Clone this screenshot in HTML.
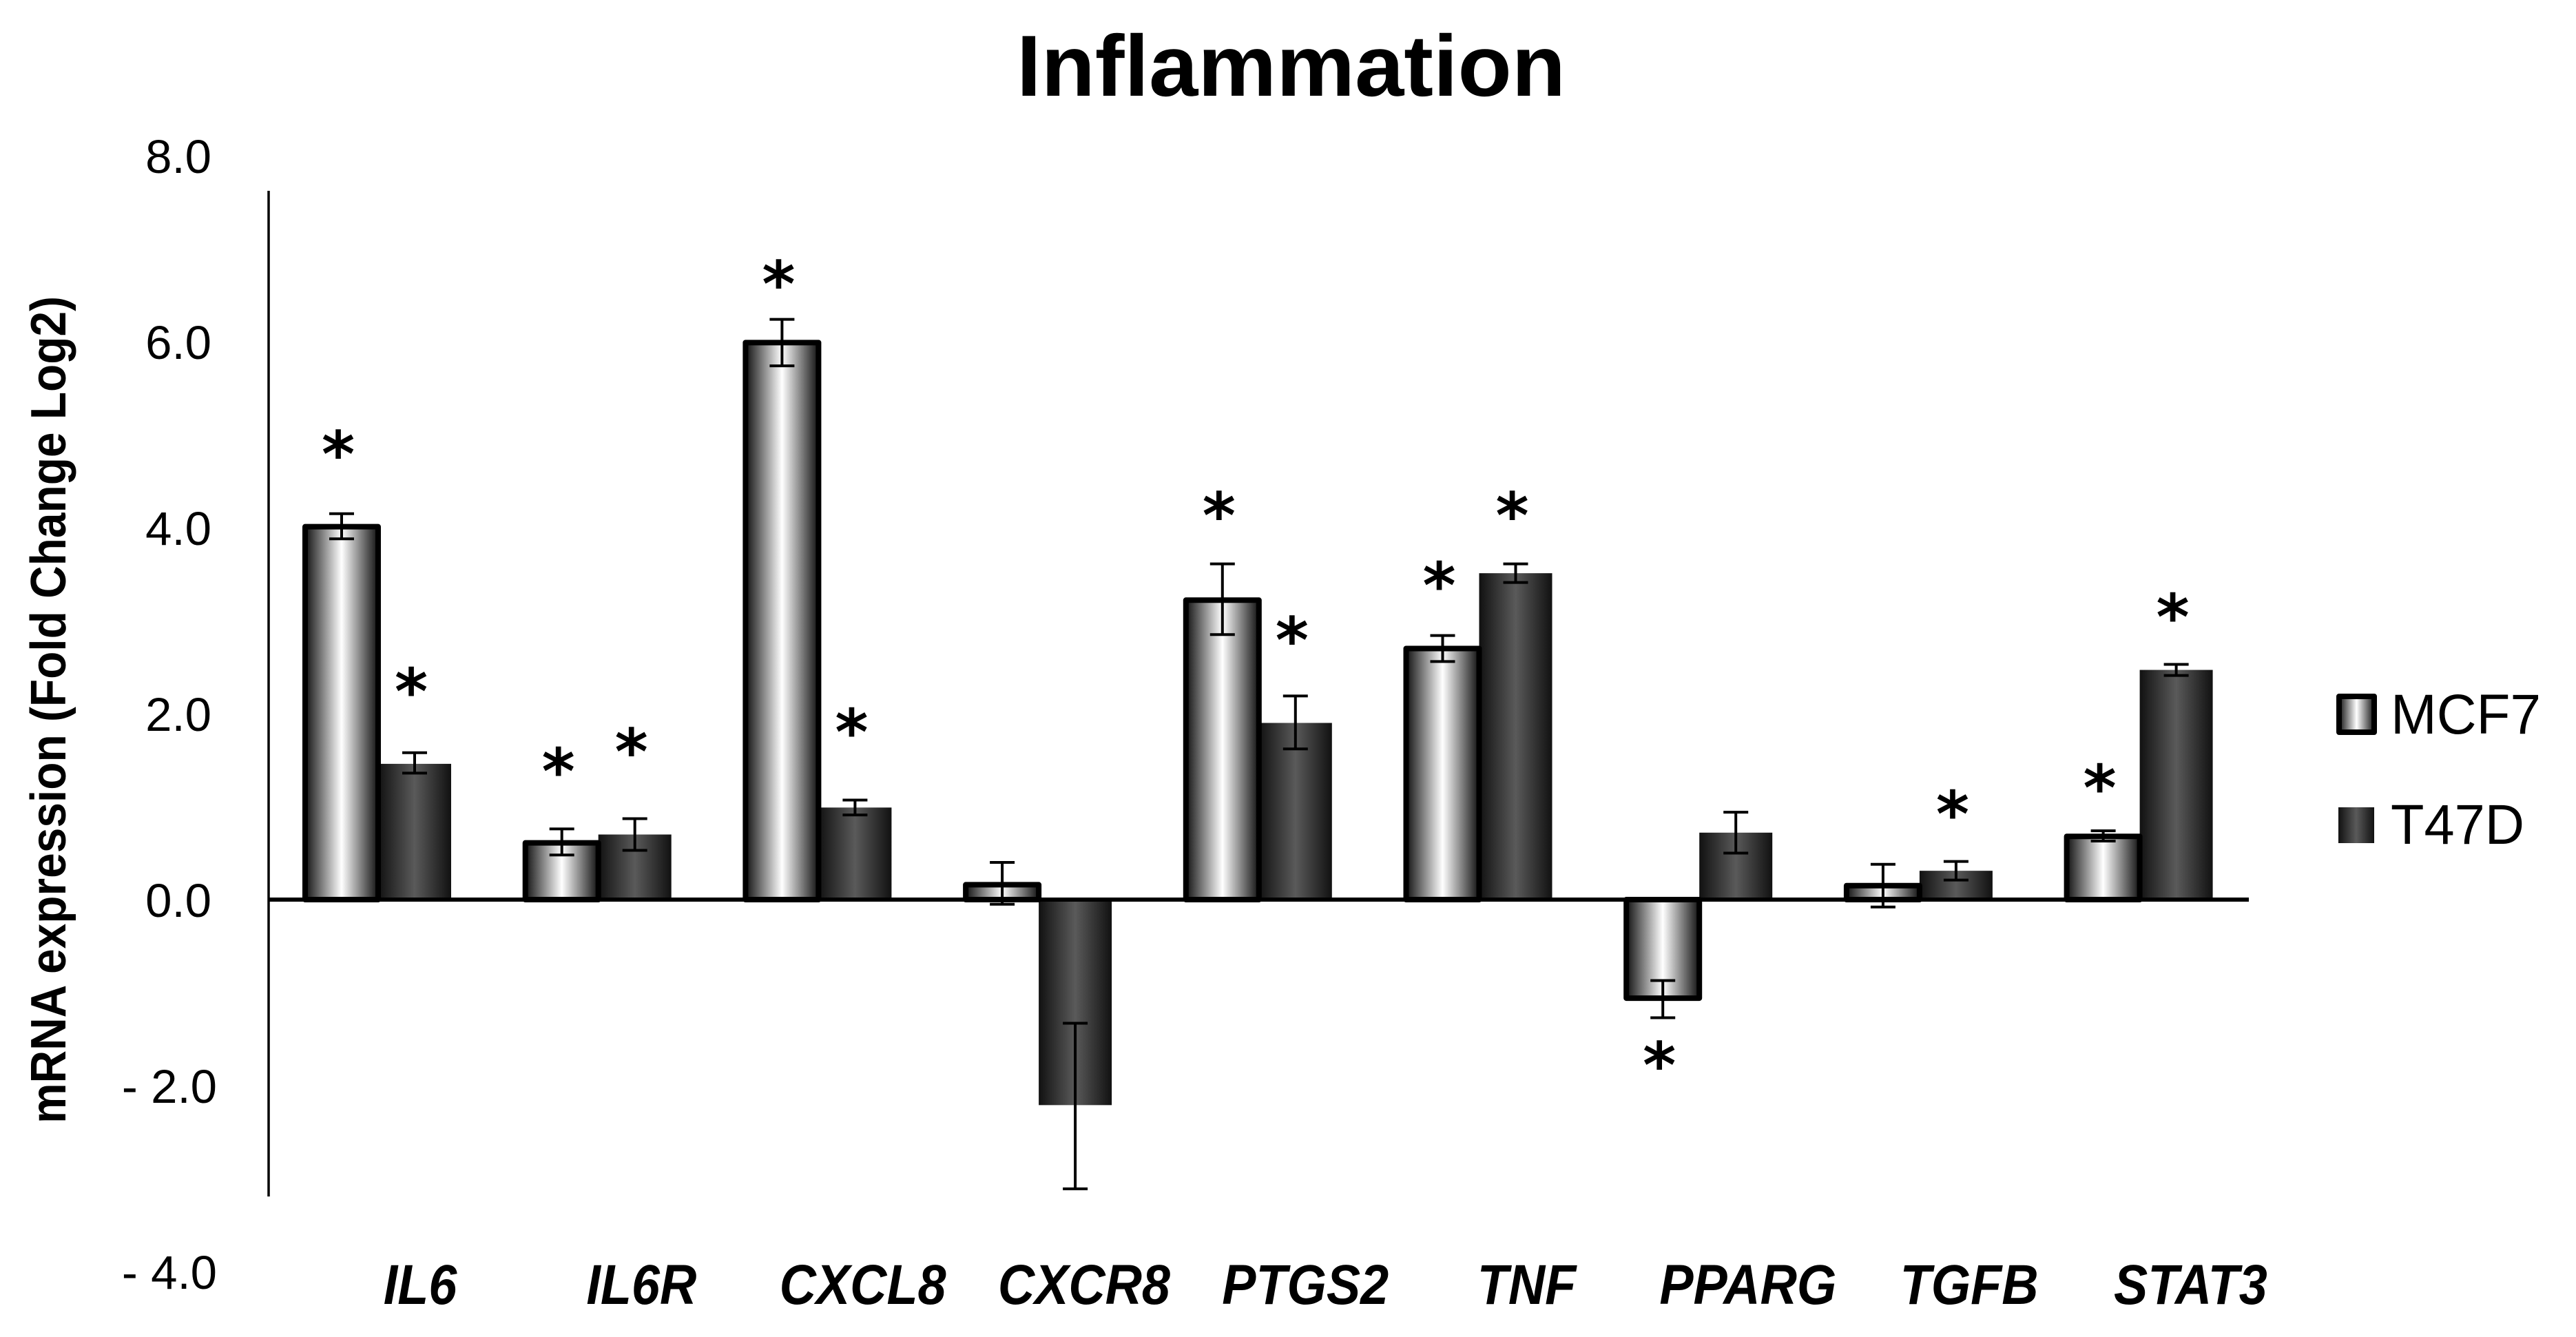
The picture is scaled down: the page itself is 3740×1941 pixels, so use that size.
<!DOCTYPE html>
<html lang="en">
<head>
<meta charset="utf-8">
<title>Inflammation</title>
<style>
  html, body { margin: 0; padding: 0; background: #fff; }
  svg { display: block; }
  text { font-family: "Liberation Sans", sans-serif; fill: #000; }
</style>
</head>
<body>
<svg id="chart" xmlns="http://www.w3.org/2000/svg" width="3740" height="1941" viewBox="0 0 3740 1941">
  <defs>
    <linearGradient id="gradMCF7" x1="0" y1="0" x2="1" y2="0">
      <stop offset="0" stop-color="#111"/>
      <stop offset="0.5" stop-color="#fff"/>
      <stop offset="1" stop-color="#111"/>
    </linearGradient>
    <linearGradient id="gradT47D" x1="0" y1="0" x2="1" y2="0">
      <stop offset="0" stop-color="#111"/>
      <stop offset="0.5" stop-color="#5a5a5a"/>
      <stop offset="1" stop-color="#111"/>
    </linearGradient>
  </defs>
  <rect x="0" y="0" width="3740" height="1941" fill="#fff"/>
  <text x="1476" y="139" font-size="126" font-weight="700" textLength="797" lengthAdjust="spacingAndGlyphs">Inflammation</text>
  <text transform="translate(95,1631) rotate(-90)" font-size="72" font-weight="700" textLength="1201" lengthAdjust="spacingAndGlyphs">mRNA expression (Fold Change Log2)</text>
  <g id="ticks"></g>
  <g id="bars"></g>
  <g id="axes"></g>
  <g id="errors"></g>
  <g id="stars"></g>
  <g id="cats"></g>
  <g>
    <g>
      <rect x="3396" y="1011" width="51" height="52" fill="url(#gradMCF7)" stroke="#000" stroke-width="8" stroke-linejoin="round"/>
      <text x="3471" y="1065" font-size="82" textLength="218" lengthAdjust="spacingAndGlyphs">MCF7</text>
    </g>
    <g>
      <rect x="3395" y="1172" width="52" height="52" fill="url(#gradT47D)"/>
      <text x="3471" y="1225" font-size="82" textLength="194" lengthAdjust="spacingAndGlyphs">T47D</text>
    </g>
  </g>
</svg>
<script>
const categories = ['IL6','IL6R','CXCL8','CXCR8','PTGS2','TNF','PPARG','TGFB','STAT3'];
const tickValues = [8,6,4,2,0,-2,-4];
const tickLabels = ['8.0','6.0','4.0','2.0','0.0','- 2.0','- 4.0'];

const mcf7Values = [4.01,0.61,5.99,0.16,3.22,2.70,-1.06,0.15,0.68];
const mcf7Upper  = [4.15,0.76,6.24,0.40,3.61,2.84,-0.87,0.38,0.74];
const mcf7Lower  = [3.88,0.48,5.74,-0.05,2.85,2.56,-1.27,-0.08,0.63];

const t47dValues = [1.46,0.70,0.99,-2.21,1.90,3.51,0.72,0.31,2.47];
const t47dUpper  = [1.58,0.87,1.07,-1.33,2.19,3.61,0.94,0.41,2.53];
const t47dLower  = [1.36,0.53,0.91,-3.11,1.62,3.41,0.50,0.21,2.41];

/* height of each significance asterisk, in axis units; null = no asterisk */
const mcf7Stars = [4.90,1.49,6.73,null,4.24,3.49,-1.67,null,1.31];
const t47dStars = [2.35,1.70,1.91,null,2.90,4.24,null,1.03,3.15];

const NS = 'http://www.w3.org/2000/svg';
const ZERO_Y = 1306, UNIT = 135, BAND_START = 549, BAND_STEP = 319.7, BAR_W = 106;
const AXIS_LEFT = 390, AXIS_RIGHT = 3265, AXIS_TOP = 277, AXIS_BOTTOM = 1737;

function yScale(v) { return ZERO_Y - v * UNIT; }
function bandCenter(i) { return BAND_START + BAND_STEP * i; }
function labelCenter(i) { return 610 + 321.3 * i; }
function make(tag, attrs, parent) {
  const el = document.createElementNS(NS, tag);
  for (const k in attrs) el.setAttribute(k, attrs[k]);
  parent.appendChild(el);
  return el;
}

const gTicks = document.getElementById('ticks');
tickValues.forEach(function (v, i) {
  const t = make('text', { x: v < 0 ? 315 : 307, y: yScale(v) + 25, 'font-size': 69, 'text-anchor': 'end' }, gTicks);
  
  
  t.textContent = tickLabels[i];
});

const gBars = document.getElementById('bars');
function drawBars(values, isMCF7) {
  values.forEach(function (v, i) {
    const c = bandCenter(i);
    const y0 = yScale(Math.max(v, 0));
    const y1 = yScale(Math.min(v, 0));
    const attrs = { x: isMCF7 ? c - BAR_W : c, y: y0, width: BAR_W, height: y1 - y0,
      fill: isMCF7 ? 'url(#gradMCF7)' : 'url(#gradT47D)' };
    if (isMCF7) { attrs.stroke = '#000'; attrs['stroke-width'] = 8; attrs['stroke-linejoin'] = 'round'; }
    const r = make('rect', attrs, gBars);
    
    
  });
}
drawBars(t47dValues, false);
drawBars(mcf7Values, true);

const gAxes = document.getElementById('axes');
const yAxisLine = make('line', { x1: AXIS_LEFT, x2: AXIS_LEFT, y1: AXIS_TOP, y2: AXIS_BOTTOM, stroke: '#000', 'stroke-width': 3.5 }, gAxes);


const zeroLine = make('line', { x1: AXIS_LEFT, x2: AXIS_RIGHT, y1: yScale(0), y2: yScale(0), stroke: '#000', 'stroke-width': 6 }, gAxes);



const gErr = document.getElementById('errors');
function drawErrors(upper, lower, shift) {
  upper.forEach(function (u, i) {
    const x = bandCenter(i) + shift;
    const a = yScale(u), b = yScale(lower[i]);
    const g = make('g', { stroke: '#000', 'stroke-width': 4 }, gErr);
    
    
    make('line', { x1: x, x2: x, y1: a, y2: b }, g);
    make('line', { x1: x - 18, x2: x + 18, y1: a, y2: a }, g);
    make('line', { x1: x - 18, x2: x + 18, y1: b, y2: b }, g);
  });
}
drawErrors(mcf7Upper, mcf7Lower, -BAR_W / 2);
drawErrors(t47dUpper, t47dLower, BAR_W / 2);

const gStars = document.getElementById('stars');
function drawStars(stars, shift) {
  stars.forEach(function (v, i) {
    if (v === null) return;
    const t = make('text', { x: bandCenter(i) + shift - 5, y: yScale(v) + 47, 'font-size': 92, 'font-weight': 700, 'text-anchor': 'middle' }, gStars);
    
    
    t.style.fontFamily = '"DejaVu Sans", sans-serif';
    t.textContent = '*';
  });
}
drawStars(mcf7Stars, -BAR_W / 2);
drawStars(t47dStars, BAR_W / 2);

const gCats = document.getElementById('cats');
categories.forEach(function (name, i) {
  const t = make('text', { transform: 'translate(' + labelCenter(i) + ',1893) scale(0.9,1)', 'font-size': 82, 'font-weight': 700, 'font-style': 'italic', 'text-anchor': 'middle' }, gCats);
  
  
  t.textContent = name;
});
</script>
</body>
</html>
